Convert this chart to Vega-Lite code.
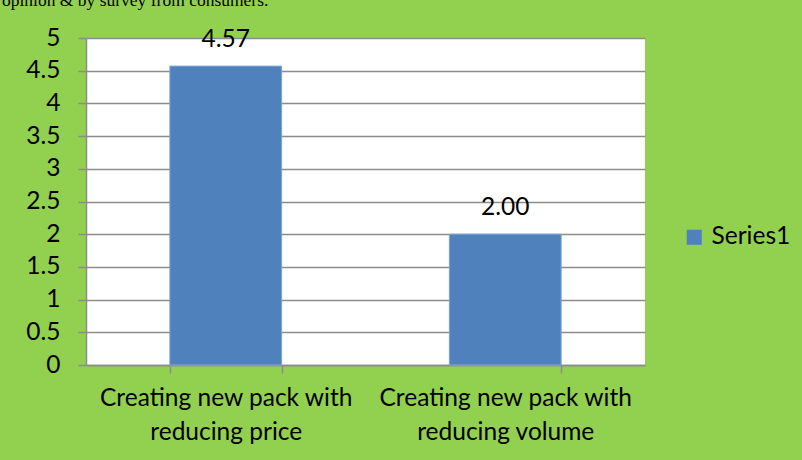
{
  "$schema": "https://vega.github.io/schema/vega-lite/v6.json",
  "autosize": {"type": "none"},
  "width": 559,
  "height": 327,
  "padding": {"left": 86, "top": 38, "right": 157, "bottom": 95},
  "background": "#92D050",
  "title": {
    "text": "opinion & by survey from consumers.",
    "anchor": "start",
    "frame": "group",
    "orient": "top",
    "offset": 0,
    "dx": -84,
    "dy": -2,
    "baseline": "alphabetic",
    "font": "Liberation Serif",
    "fontSize": 17.5,
    "fontWeight": "normal",
    "color": "#000000"
  },
  "data": {
    "values": [
      {"strategy": "Creating new pack with reducing price", "score": 4.57, "series": "Series1"},
      {"strategy": "Creating new pack with reducing volume", "score": 2.0, "series": "Series1"}
    ]
  },
  "encoding": {
    "x": {
      "field": "strategy",
      "type": "nominal",
      "sort": null,
      "scale": {"paddingInner": 0.6, "paddingOuter": 0.3},
      "axis": {
        "title": null,
        "labelAngle": 0,
        "labelExpr": "[slice(datum.label, 0, 22), slice(datum.label, 23)]",
        "labelFont": "Lato",
        "labelFontSize": 24.5,
        "labelColor": "#000000",
        "labelLineHeight": 34,
        "labelPadding": 13,
        "labelLimit": 400,
        "tickBand": "extent",
        "tickColor": "#8c8c8c",
        "tickSize": 8,
        "tickWidth": 1.5,
        "domainColor": "#8c8c8c",
        "domainWidth": 1.5,
        "grid": false
      }
    },
    "y": {
      "field": "score",
      "type": "quantitative",
      "scale": {"domain": [0, 5], "nice": false},
      "axis": {
        "title": null,
        "values": [0, 0.5, 1, 1.5, 2, 2.5, 3, 3.5, 4, 4.5, 5],
        "format": "~g",
        "labelFont": "Lato",
        "labelFontSize": 24.5,
        "labelColor": "#000000",
        "labelPadding": 18,
        "tickColor": "#8c8c8c",
        "tickSize": 8,
        "tickWidth": 1.5,
        "domainColor": "#8c8c8c",
        "domainWidth": 1.5,
        "gridColor": "#8c8c8c",
        "gridWidth": 1.5
      }
    }
  },
  "layer": [
    {
      "mark": {"type": "bar", "stroke": "#7FA6D9", "strokeWidth": 1},
      "encoding": {
        "color": {
          "field": "series",
          "type": "nominal",
          "scale": {"range": ["#4F81BD"]},
          "legend": {
            "title": null,
            "orient": "none",
            "legendX": 596,
            "legendY": 187,
            "symbolType": "square",
            "symbolSize": 225,
            "symbolStrokeWidth": 0,
            "labelFont": "Lato",
            "labelFontSize": 24.5,
            "labelColor": "#000000",
            "labelOffset": 5
          }
        }
      }
    },
    {
      "mark": {"type": "text", "baseline": "alphabetic", "dy": -19, "font": "Lato", "fontSize": 24.5, "color": "#000000"},
      "encoding": {
        "text": {"field": "score", "type": "quantitative", "format": ".2f"}
      }
    }
  ],
  "config": {
    "view": {"fill": "#FFFFFF", "stroke": null}
  }
}
